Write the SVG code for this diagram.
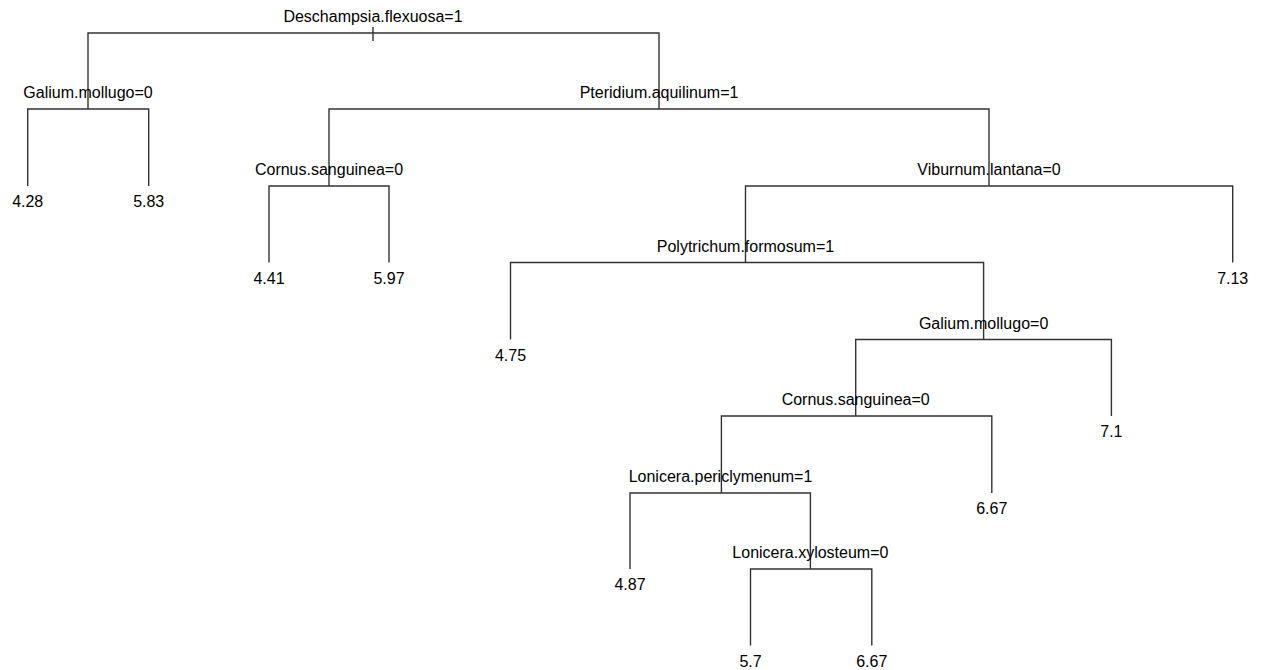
<svg xmlns="http://www.w3.org/2000/svg" width="1264" height="670" viewBox="0 0 1264 670">
<style>
.e{fill:none;stroke:#333;stroke-width:1.4;stroke-linecap:butt}
text{font-family:"Liberation Sans",Arial,sans-serif;font-size:16px;fill:#000;text-anchor:middle}
</style>
<rect width="1264" height="670" fill="#fff"/>
<g id="connectors">
<path class="e" d="M373 27V41"/>
<path class="e" d="M88 109V33H659V109"/>
<path class="e" d="M27.7 186V109H148.7V186"/>
<path class="e" d="M329 186V109H989V186"/>
<path class="e" d="M269 262.5V186H389V262.5"/>
<path class="e" d="M745.5 262.5V186H1232.7V262.5"/>
<path class="e" d="M510.5 339.5V262.5H983.6V339.5"/>
<path class="e" d="M855.7 416V339.5H1111.4V416"/>
<path class="e" d="M721.4 493V416H991.8V493"/>
<path class="e" d="M630 569V493H810.4V569"/>
<path class="e" d="M750.5 645.5V569H871.8V645.5"/>
</g>
<g id="n-root"><text x="373" y="22">Deschampsia.flexuosa=1</text></g>
<g id="n-galium1"><text x="88" y="98">Galium.mollugo=0</text></g>
<g id="n-pteridium"><text x="659" y="98">Pteridium.aquilinum=1</text></g>
<g id="n-cornus1"><text x="329" y="175">Cornus.sanguinea=0</text></g>
<g id="n-viburnum"><text x="989" y="175">Viburnum.lantana=0</text></g>
<g id="n-polytrichum"><text x="745.5" y="251.5">Polytrichum.formosum=1</text></g>
<g id="n-galium2"><text x="983.6" y="328.5">Galium.mollugo=0</text></g>
<g id="n-cornus2"><text x="855.7" y="405">Cornus.sanguinea=0</text></g>
<g id="n-periclymenum"><text x="720.5" y="482">Lonicera.periclymenum=1</text></g>
<g id="n-xylosteum"><text x="810.4" y="558">Lonicera.xylosteum=0</text></g>
<g id="leaf-428"><text x="27.7" y="207">4.28</text></g>
<g id="leaf-583"><text x="148.7" y="207">5.83</text></g>
<g id="leaf-441"><text x="269" y="283.5">4.41</text></g>
<g id="leaf-597"><text x="389" y="283.5">5.97</text></g>
<g id="leaf-713"><text x="1232.7" y="283.5">7.13</text></g>
<g id="leaf-475"><text x="510.5" y="360.5">4.75</text></g>
<g id="leaf-71"><text x="1111.4" y="437">7.1</text></g>
<g id="leaf-667a"><text x="991.8" y="513.5">6.67</text></g>
<g id="leaf-487"><text x="630" y="590">4.87</text></g>
<g id="leaf-57"><text x="750.5" y="666.5">5.7</text></g>
<g id="leaf-667b"><text x="871.8" y="666.5">6.67</text></g>
</svg>
